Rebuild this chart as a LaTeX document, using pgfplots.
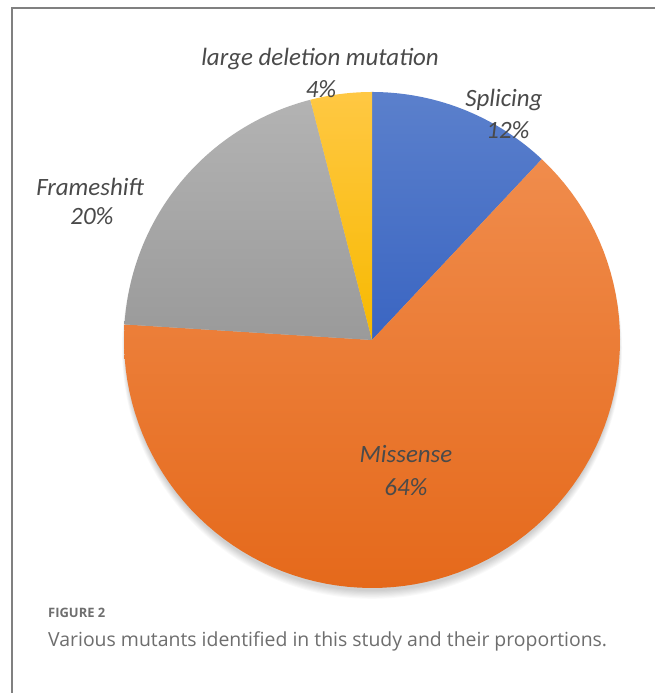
\documentclass[border=0pt]{standalone}
\usepackage{pgfplots}
\usepackage{pgfplotstable}
\pgfplotsset{compat=1.18}
\usepackage{fontspec}
\setmainfont{Carlito}
\newfontfamily\capfont{Open Sans}
\definecolor{blueT}{HTML}{5B80CC}
\definecolor{blueB}{HTML}{3A65C2}
\definecolor{orT}{HTML}{F08C4C}
\definecolor{orB}{HTML}{E5691B}
\definecolor{grT}{HTML}{B3B3B3}
\definecolor{grB}{HTML}{9A9A9A}
\definecolor{yeT}{HTML}{FFC843}
\definecolor{yeB}{HTML}{F7B900}
\definecolor{lab}{HTML}{4A4A4A}
\definecolor{cap}{HTML}{6E6E6E}
\pgfplotstableread{
label value
Splicing 12
Missense 64
Frameshift 20
Deletion 4
}\piedata
\begin{document}
\begin{tikzpicture}[x=1bp,y=1bp]
\useasboundingbox (0,0) rectangle (655,693);
\fill[white] (0,0) rectangle (655,693);
\draw[color=black!50, line width=1.6bp] (12,0) -- (12,685) -- (656,685);
% soft shadow
\foreach \i in {1,...,8}{
  \fill[black, opacity=0.025] (372,{353-4-0.6*\i}) circle ({246+0.5*\i});
}
\pgfplotstablegetelem{0}{value}\of\piedata \let\va\pgfplotsretval
\pgfplotstablegetelem{1}{value}\of\piedata \let\vb\pgfplotsretval
\pgfplotstablegetelem{2}{value}\of\piedata \let\vc\pgfplotsretval
\pgfplotstablegetelem{3}{value}\of\piedata \let\vd\pgfplotsretval
\pgfmathsetmacro{\aA}{90}
\pgfmathsetmacro{\aB}{\aA-3.6*\va}
\pgfmathsetmacro{\aC}{\aB-3.6*\vb}
\pgfmathsetmacro{\aD}{\aC-3.6*\vc}
\pgfmathsetmacro{\aE}{\aD-3.6*\vd}
\begin{axis}[at={(372bp,353bp)}, anchor=center, scale only axis,
  width=496bp, height=496bp, xmin=-1, xmax=1, ymin=-1, ymax=1,
  hide axis, clip=false, data cs=polar, samples=90]
\addplot[draw=none, shading=axis, top color=blueT, bottom color=blueB, domain=\aA:\aB] ({x},{1}) -- (axis cs:0,0) -- cycle;
\addplot[draw=none, shading=axis, top color=orT, bottom color=orB, domain=\aB:\aC] ({x},{1}) -- (axis cs:0,0) -- cycle;
\addplot[draw=none, shading=axis, top color=grT, bottom color=grB, domain=\aC:\aD] ({x},{1}) -- (axis cs:0,0) -- cycle;
\addplot[draw=none, shading=axis, top color=yeT, bottom color=yeB, domain=\aD:\aE] ({x},{1}) -- (axis cs:0,0) -- cycle;
\end{axis}
\begin{scope}[every node/.style={text=lab, font=\fontsize{25}{29}\selectfont\itshape, align=center, inner sep=0pt}]
\node at (320,634) {large deletion mutation};
\node at (321,604) {4\%};
\node at (504,593) {Splicing};
\node at (508,563) {12\%};
\node at (90,506) {Frameshift};
\node at (92,477) {20\%};
\node at (406,239) {Missense};
\node at (406,206) {64\%};
\end{scope}
\node[anchor=base west, inner sep=0pt, text=cap, font=\capfont\bfseries\fontsize{13}{15}\selectfont] at (48,75) {FIGURE 2};
\node[anchor=base west, inner sep=0pt, text=cap, font=\capfont\fontsize{19.5}{22}\selectfont] at (48,46) {Various mutants identified in this study and their proportions.};
\end{tikzpicture}
\end{document}
